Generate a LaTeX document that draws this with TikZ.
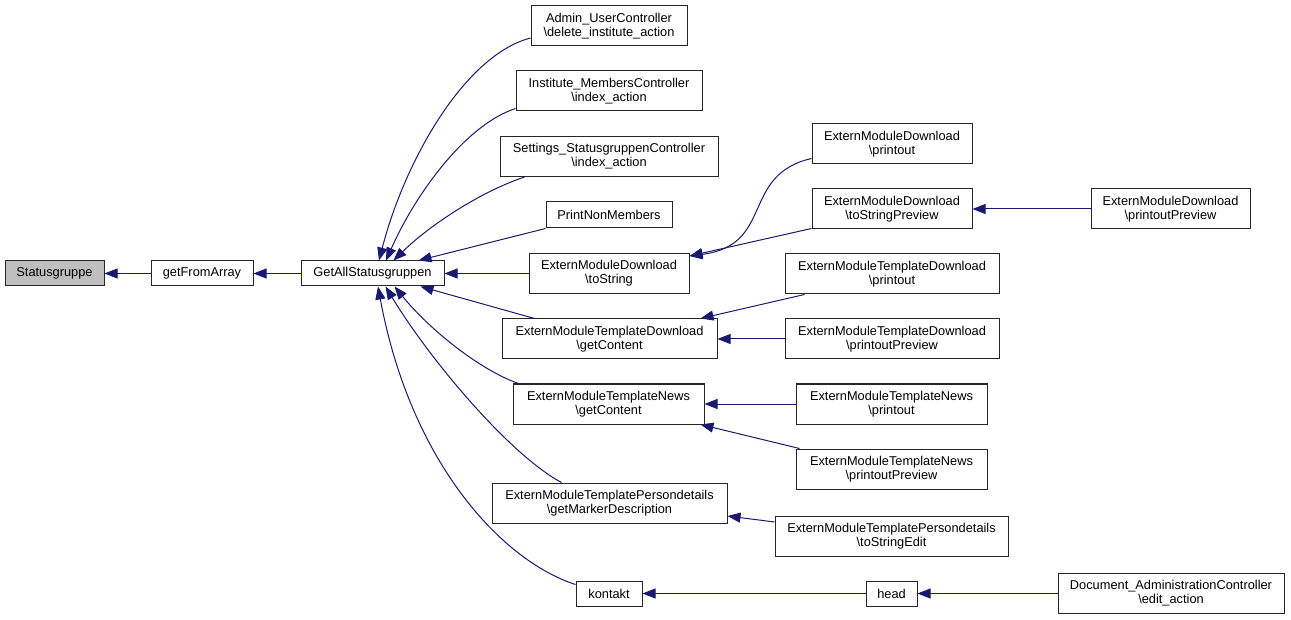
\documentclass[tikz,border=0pt]{standalone}
\usepackage{fontspec}
\setmainfont{Liberation Sans}
\usetikzlibrary{arrows.meta}
\definecolor{edgeblue}{RGB}{25,25,112}
\definecolor{selgray}{RGB}{191,191,191}
\begin{document}
\begin{tikzpicture}[x=1pt,y=-1pt,
  box/.style={draw=black!85,line width=1pt,inner sep=0pt,align=center,fill=white,
    font=\fontsize{12.8}{14.2}\selectfont,minimum height=40pt},
  sbox/.style={box,minimum height=25pt},
  call/.style={draw=edgeblue,line width=1pt,-{Triangle[length=13pt,width=10pt]}}]
\useasboundingbox (0,0) rectangle (1291,620);
% column 0-2
\node[sbox,fill=selgray,minimum width=99pt] (sg) at (54.5,273.5) {Statusgruppe};
\node[sbox,minimum width=102pt] (gfa) at (202,273.5) {getFromArray};
\node[sbox,minimum width=143pt] (ga) at (372.5,273.5) {GetAllStatusgruppen};
% column 3
\node[box,minimum width=156pt] (admin) at (609,26) {Admin\_UserController\\\textbackslash delete\_institute\_action};
\node[box,minimum width=186pt] (inst) at (609,91) {Institute\_MembersController\\\textbackslash index\_action};
\node[box,minimum width=218pt] (sett) at (609,156.5) {Settings\_StatusgruppenController\\\textbackslash index\_action};
\node[sbox,minimum width=126pt,minimum height=26pt] (pnm) at (609,215) {PrintNonMembers};
\node[box,minimum width=160pt] (ts) at (609,273.5) {ExternModuleDownload\\\textbackslash toString};
\node[box,minimum width=215pt] (tdgc) at (609.5,339) {ExternModuleTemplateDownload\\\textbackslash getContent};
\node[box,minimum width=191pt] (tngc) at (608.5,404) {ExternModuleTemplateNews\\\textbackslash getContent};
\node[box,minimum width=235pt] (pgmd) at (609.5,503) {ExternModuleTemplatePersondetails\\\textbackslash getMarkerDescription};
\node[sbox,minimum width=66pt] (kon) at (609,593.5) {kontakt};
% column 4
\node[box,minimum width=160pt] (dpo) at (892,144) {ExternModuleDownload\\\textbackslash printout};
\node[box,minimum width=160pt] (dtsp) at (892,209) {ExternModuleDownload\\\textbackslash toStringPreview};
\node[box,minimum width=214pt] (tdpo) at (892,274) {ExternModuleTemplateDownload\\\textbackslash printout};
\node[box,minimum width=214pt] (tdpp) at (892,339) {ExternModuleTemplateDownload\\\textbackslash printoutPreview};
\node[box,minimum width=191pt] (tnpo) at (891.5,404) {ExternModuleTemplateNews\\\textbackslash printout};
\node[box,minimum width=191pt] (tnpp) at (891.5,469) {ExternModuleTemplateNews\\\textbackslash printoutPreview};
\node[box,minimum width=233pt] (pdse) at (891.5,536) {ExternModuleTemplatePersondetails\\\textbackslash toStringEdit};
\node[sbox,minimum width=51pt] (head) at (891.5,593.5) {head};
% column 5
\node[box,minimum width=159pt] (dpp) at (1170.5,209) {ExternModuleDownload\\\textbackslash printoutPreview};
\node[box,minimum width=226pt] (doc) at (1171,593.5) {Document\_AdministrationController\\\textbackslash edit\_action};
% edges
\draw[call] (gfa.west) -- (sg.east);
\draw[call] (ga.west) -- (gfa.east);
\draw[call] ([yshift=-12pt]admin.west) .. controls (465,55) and (405,160) .. ([xshift=6.5pt]ga.north);
\draw[call] ([yshift=3pt]inst.south west) .. controls (465,125) and (415,195) .. ([xshift=13.5pt]ga.north);
\draw[call] ([xshift=25pt]sett.south west) .. controls (480,192) and (430,225) .. ([xshift=21pt]ga.north);
\draw[call] (pnm.south west) -- ([xshift=46pt]ga.north);
\draw[call] (ts.west) -- (ga.east);
\draw[call] ([xshift=33pt]tdgc.north west) -- ([xshift=48pt]ga.south);
\draw[call] ([xshift=6pt]tngc.north west) .. controls (480,370) and (430,330) .. ([xshift=22pt]ga.south);
\draw[call] ([xshift=70pt]pgmd.north west) .. controls (510,455) and (430,360) .. ([xshift=13pt]ga.south);
\draw[call] ([yshift=-4pt]kon.north west) .. controls (500,560) and (410,460) .. ([xshift=5.5pt]ga.south);
\draw[call] ([yshift=6pt]dpo.south west) .. controls (740,175) and (775,245) .. ([yshift=-3pt]ts.north east);
\draw[call] ([yshift=1pt]dtsp.south west) -- ([yshift=-3pt]ts.north east);
\draw[call] (dpp.west) -- (dtsp.east);
\draw[call] ([xshift=20pt]tdpo.south west) -- ([xshift=-17pt]tdgc.north east);
\draw[call] (tdpp.west) -- (tdgc.east);
\draw[call] (tnpo.west) -- (tngc.east);
\draw[call] ([xshift=4pt]tnpp.north west) -- ([xshift=-4pt]tngc.south east);
\draw[call] ([yshift=14pt]pdse.west) -- ([yshift=-13pt]pgmd.east);
\draw[call] (head.west) -- (kon.east);
\draw[call] (doc.west) -- (head.east);
\end{tikzpicture}
\end{document}
